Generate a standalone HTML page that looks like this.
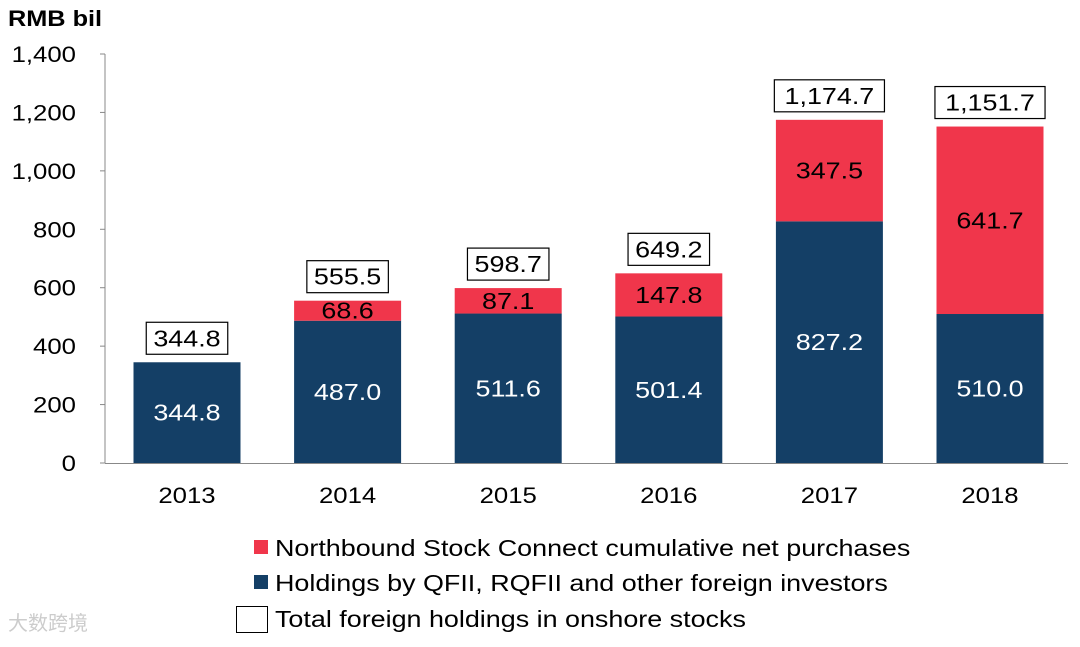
<!DOCTYPE html>
<html><head><meta charset="utf-8"><style>
body{margin:0;background:#fff;}
svg{font-family:"Liberation Sans",Arial,sans-serif;}
</style></head><body>
<svg id="c" width="1080" height="642" xmlns="http://www.w3.org/2000/svg">
<text x="8" y="26" font-size="22" font-weight="bold" transform="translate(8,0) scale(1.15,1) translate(-8,0)">RMB bil</text>
<g id="ax"></g><g id="bars"></g>
<g>
<rect x="254" y="540" width="14" height="14" fill="#F0364B"/>
<text x="275" y="556" font-size="23" transform="translate(275,0) scale(1.17,1) translate(-275,0)">Northbound Stock Connect cumulative net purchases</text>
<rect x="254" y="575" width="14" height="14" fill="#143F66"/>
<text x="275" y="591" font-size="23" transform="translate(275,0) scale(1.17,1) translate(-275,0)">Holdings by QFII, RQFII and other foreign investors</text>
<rect x="236.5" y="606.5" width="31" height="26" fill="none" stroke="#000"/>
<text x="275" y="627" font-size="23" transform="translate(275,0) scale(1.17,1) translate(-275,0)">Total foreign holdings in onshore stocks</text>
</g>
<text x="8" y="630" font-size="20" fill="#ccc">大数跨境</text>
</svg>
<script>
const categories=["2013","2014","2015","2016","2017","2018"];
const qfii=[344.8,487.0,511.6,501.4,827.2,510.0];
const northbound=[0,68.6,87.1,147.8,347.5,641.7];
const totals=["344.8","555.5","598.7","649.2","1,174.7","1,151.7"];
const yTicks=[0,200,400,600,800,1000,1200,1400];
const yTickLabels=["0","200","400","600","800","1,000","1,200","1,400"];
const NS="http://www.w3.org/2000/svg";
const y=v=>463-v*409/1400;
const xc=i=>187+i*160.6;
const S=1.17;
function mk(tag,attrs,parent,txt){const e=document.createElementNS(NS,tag);for(const k in attrs)e.setAttribute(k,attrs[k]);if(txt!==undefined){e.textContent=txt;e.setAttribute('transform',`translate(${attrs.x},0) scale(${S},1) translate(${-attrs.x},0)`);}parent.appendChild(e);return e;}
const ax=document.getElementById('ax'),bars=document.getElementById('bars');
let l=mk('line',{x1:105,y1:54,x2:105,y2:463,stroke:'#888'},ax);


l=mk('line',{x1:105,y1:463.5,x2:1068,y2:463.5,stroke:'#888'},ax);


yTicks.forEach((t,i)=>{
 const tk=mk('line',{x1:100,x2:105,y1:y(t),y2:y(t),stroke:'#888'},ax);
 
 
 const tl=mk('text',{x:76,y:y(t)+8,'font-size':22,'text-anchor':'end'},ax,yTickLabels[i]);
 
 
});
categories.forEach((c,i)=>{
 const x=xc(i),w=107;
 const cl=mk('text',{x:x,y:503,'font-size':22,'text-anchor':'middle'},ax,c);
 
 
 const b=mk('rect',{x:x-w/2,y:y(qfii[i]),width:w,height:y(0)-y(qfii[i]),fill:'#143F66'},bars);
 
 
 const bt=mk('text',{x:x,y:(y(0)+y(qfii[i]))/2+8,'font-size':23,'text-anchor':'middle',fill:'#fff'},bars,qfii[i].toFixed(1));
 
 
 const top=qfii[i]+northbound[i];
 if(northbound[i]>0){
  const r=mk('rect',{x:x-w/2,y:y(top),width:w,height:y(qfii[i])-y(top),fill:'#F0364B'},bars);
  
  
  const rt=mk('text',{x:x,y:(y(qfii[i])+y(top))/2+8,'font-size':23,'text-anchor':'middle',fill:'#000'},bars,northbound[i].toFixed(1));
  
  
 }
 const tw=totals[i].length*14.3+10;
 const bx=mk('rect',{x:x-tw/2,y:y(top)-40,width:tw,height:32,fill:'#fff',stroke:'#000','stroke-width':1.2},bars);
 
 
 const tt=mk('text',{x:x,y:y(top)-16,'font-size':23,'text-anchor':'middle'},bars,totals[i]);
 
 
});
</script>
</body></html>
